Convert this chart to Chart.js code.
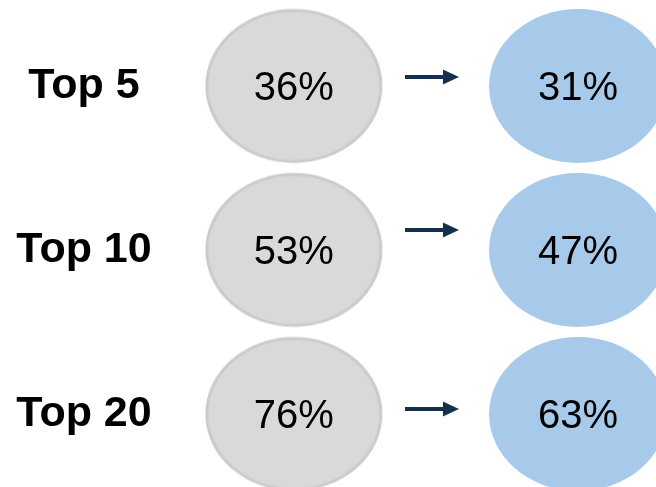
<!DOCTYPE html>
<html>
<head>
<meta charset="utf-8">
<style>
  html, body { margin: 0; padding: 0; background: #ffffff; }
  #wrap { width: 656px; height: 487px; position: relative; }
</style>
<script src="https://cdn.jsdelivr.net/npm/chart.js@4"></script>
</head>
<body>
<div id="wrap"><canvas id="c" width="656" height="487"></canvas></div>
<script>
// ---- data ----
const rows = ['Top 5', 'Top 10', 'Top 20'];
const beforeShare = [36, 53, 76];
const afterShare = [31, 47, 63];

// ---- styles ----
const GREY_FILL = '#d9d9d9';
const GREY_EDGE = '#cbcbcb';
const BLUE_FILL = '#a7caeb';
const ARROW_COL = '#14304e';
const FONT = '"Liberation Sans", Arial, Helvetica, sans-serif';
const arrowShift = [-9, -20, -5];   // vertical nudge of each arrow (px)

function ellipseImage(rx, ry, fill, edge, lw) {
  const c = document.createElement('canvas');
  c.width = Math.ceil(rx * 2 + 6);
  c.height = Math.ceil(ry * 2 + 6);
  const g = c.getContext('2d');
  g.beginPath();
  g.ellipse(c.width / 2, c.height / 2, rx, ry, 0, 0, Math.PI * 2);
  g.fillStyle = fill;
  g.fill();
  if (edge) { g.lineWidth = lw; g.strokeStyle = edge; g.stroke(); }
  return c;
}
function arrowImage(shift) {
  const c = document.createElement('canvas');
  c.width = 62;
  c.height = 60;
  const g = c.getContext('2d');
  const y = c.height / 2 + shift;
  g.fillStyle = ARROW_COL;
  g.fillRect(0, y - 2, 40, 4);
  g.beginPath();
  g.moveTo(38, y - 7.5);
  g.lineTo(54, y);
  g.lineTo(38, y + 7.5);
  g.closePath();
  g.fill();
  return c;
}

const greyImg = ellipseImage(87, 75.5, GREY_FILL, GREY_EDGE, 3);
const blueImg = ellipseImage(89, 77, BLUE_FILL, null, 0);
const arrowImgs = arrowShift.map(s => arrowImage(s));

const BEFORE_X = 1, AFTER_X = 2;

const valueLabels = {
  id: 'valueLabels',
  afterDatasetsDraw(chart) {
    const ctx = chart.ctx;
    ctx.save();
    ctx.font = '40px ' + FONT;
    ctx.fillStyle = '#000000';
    ctx.textAlign = 'center';
    ctx.textBaseline = 'alphabetic';
    [[0, beforeShare], [2, afterShare]].forEach(([di, vals]) => {
      const meta = chart.getDatasetMeta(di);
      meta.data.forEach((pt, i) => {
        ctx.fillText(vals[i] + '%', pt.x, pt.y + 14);
      });
    });
    ctx.restore();
  }
};

new Chart(document.getElementById('c'), {
  type: 'scatter',
  data: {
    datasets: [
      {
        label: 'before',
        data: rows.map(r => ({ x: BEFORE_X, y: r })),
        pointStyle: greyImg,
        clip: false
      },
      {
        label: 'arrow',
        data: rows.map(r => ({ x: (BEFORE_X + AFTER_X) / 2, y: r })),
        pointStyle: arrowImgs,
        clip: false
      },
      {
        label: 'after',
        data: rows.map(r => ({ x: AFTER_X, y: r })),
        pointStyle: blueImg,
        clip: false
      }
    ]
  },
  options: {
    responsive: false,
    animation: false,
    events: [],
    layout: { padding: { top: 86, bottom: 73, left: 0, right: 0 } },
    plugins: { legend: { display: false }, tooltip: { enabled: false } },
    scales: {
      x: {
        type: 'linear',
        display: false,
        min: 0.557,
        max: 2.257
      },
      y: {
        type: 'category',
        labels: rows,
        offset: false,
        grid: { display: false, drawTicks: false },
        border: { display: false },
        ticks: {
          color: '#000000',
          font: { family: FONT, size: 43, weight: 'bold' },
          crossAlign: 'center',
          padding: 0
        },
        afterFit(scale) {
          let w = 135;
          try { w = scale._getLabelSizes().widest.width; } catch (e) {}
          scale.width = 168;
          scale.options.ticks.padding = 168 - 84 - w / 2;
        }
      }
    }
  },
  plugins: [valueLabels]
});
</script>
</body>
</html>
